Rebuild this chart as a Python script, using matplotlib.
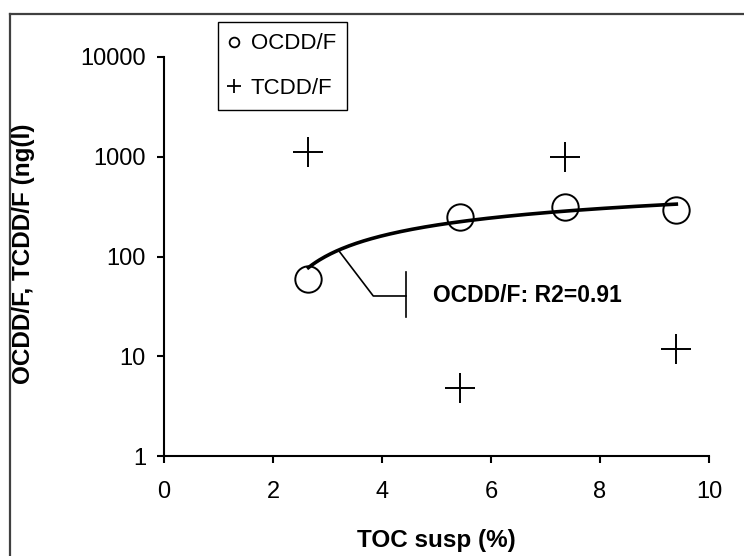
import numpy as np
import matplotlib
matplotlib.use("Agg")
import matplotlib.pyplot as plt
from matplotlib.lines import Line2D

plt.rcParams['font.family'] = ['Liberation Sans', 'DejaVu Sans']

# sample values
toc_susp = [2.65, 5.43, 7.35, 9.4]
ocdd_f = [60, 250, 315, 295]
tcdd_f = [1120, 4.8, 1000, 11.8]
y_ticks = [1, 10, 100, 1000, 10000]
y_tick_labels = ['1', '10', '100', '1000', '10000']
x_ticks = [0, 2, 4, 6, 8, 10]
fit_label = 'OCDD/F: R2=0.91'

W, H = 744, 556
fig = plt.figure(figsize=(W / 100, H / 100), dpi=100)
ax = fig.add_axes([164 / W, 1 - 456.4 / H, (709 - 164) / W, (456.4 - 56.7) / H])

x = np.array(toc_susp)
y = np.array(ocdd_f)

# logarithmic trendline through the OCDD/F points
a, b = np.polyfit(np.log(x), y, 1)
xs = np.linspace(x.min(), x.max(), 200)
ax.plot(xs, a * np.log(xs) + b, color='black', lw=2.6, zorder=3)

ax.plot(x, y, 'o', ms=19, mfc='none', mec='black', mew=1.4, zorder=2)
ax.plot(x, tcdd_f, '+', ms=21, color='black', mew=1.4, zorder=2)

# label callout for the trendline
x0 = 3.2
ax.plot([x0, 3.84, 4.44], [a * np.log(x0) + b, 40.3, 40.3], color='black', lw=1.2)
ax.plot([4.44, 4.44], [25, 70.6], color='black', lw=1.2)
ax.text(4.93, 40.3, fit_label, fontsize=16.5, fontweight='bold', ha='left', va='center')

ax.set_yscale('log')
ax.set_xlim(0, 10)
ax.set_ylim(1, 10000)
ax.set_yticks(y_ticks)
ax.set_yticklabels(y_tick_labels)
ax.minorticks_off()
ax.set_xticks(x_ticks)

for s in ['top', 'right']:
    ax.spines[s].set_visible(False)
for s in ['left', 'bottom']:
    ax.spines[s].set_linewidth(1.5)
ax.tick_params(direction='out', length=5, width=1.5, labelsize=17)
ax.tick_params(axis='x', pad=13)
ax.tick_params(axis='y', pad=8)

fig.text(24 / W, 0.544, 'OCDD/F, TCDD/F (ng(l)', rotation=90, ha='center', va='center',
         fontsize=17.5, fontweight='bold')
fig.text(436 / W, 1 - 540.8 / H, 'TOC susp (%)', ha='center', va='center',
         fontsize=17.5, fontweight='bold')

handles = [
    Line2D([], [], ls='none', marker='o', ms=7, mfc='none', mec='black', mew=1.3),
    Line2D([], [], ls='none', marker='+', ms=10, color='black', mew=1.3),
]
leg = fig.legend(handles, ['OCDD/F', 'TCDD/F'], loc='upper left',
                 bbox_to_anchor=(218.3 / W, 1 - 22.3 / H), bbox_transform=fig.transFigure,
                 fontsize=16, frameon=True, fancybox=False, shadow=False, framealpha=1,
                 edgecolor='black', handlelength=0.4, handletextpad=0.55,
                 labelspacing=1.05, borderpad=0.5, borderaxespad=0)
leg.get_frame().set_linewidth(1.0)

# chart area border (top and left edges visible)
fig.add_artist(Line2D([9.5 / W, 1.01], [1 - 14 / H] * 2, transform=fig.transFigure,
                      color='#404040', lw=1.6))
fig.add_artist(Line2D([9.5 / W] * 2, [1 - 14 / H, -0.01], transform=fig.transFigure,
                      color='#404040', lw=1.6))

fig.savefig('out.png', dpi=100)
